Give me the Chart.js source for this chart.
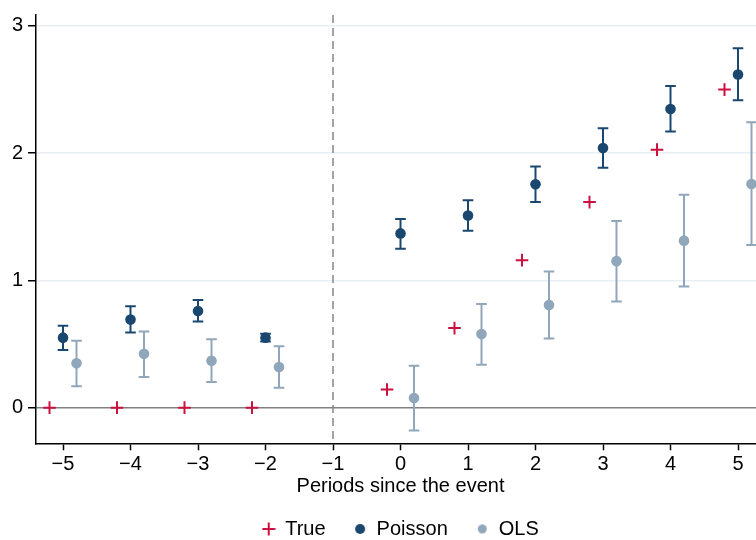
<!DOCTYPE html>
<html>
<head>
<meta charset="utf-8">
<script src="https://cdn.jsdelivr.net/npm/chart.js@4.4.1/dist/chart.umd.min.js"></script>
<style>
  html, body { margin: 0; padding: 0; background: #fff; }
  #frame { width: 756px; height: 540px; overflow: hidden; position: relative; }
  #box { position: absolute; left: 0; top: 0; width: 800px; height: 549px; }
</style>
</head>
<body>
<div id="frame"><div id="box"><canvas id="c"></canvas></div></div>
<script>
// Event-study estimates by period relative to the event
const periods     = [-5, -4, -3, -2, 0, 1, 2, 3, 4, 5];
const trueEffect  = [0, 0, 0, 0, 0.143, 0.625, 1.159, 1.615, 2.027, 2.499];
const poissonEst  = [0.550, 0.692, 0.760, 0.550, 1.369, 1.510, 1.755, 2.040, 2.346, 2.618];
const poissonLo   = [0.454, 0.591, 0.677, 0.520, 1.249, 1.390, 1.615, 1.885, 2.170, 2.416];
const poissonHi   = [0.643, 0.796, 0.845, 0.580, 1.483, 1.630, 1.895, 2.196, 2.527, 2.823];
const olsEst      = [0.348, 0.423, 0.368, 0.319, 0.075, 0.578, 0.806, 1.151, 1.312, 1.757];
const olsLo       = [0.169, 0.241, 0.202, 0.156, -0.179, 0.337, 0.544, 0.835, 0.952, 1.278];
const olsHi       = [0.526, 0.599, 0.537, 0.482, 0.330, 0.814, 1.070, 1.467, 1.672, 2.243];
const seriesNames = ['True', 'Poisson', 'OLS'];
const xTicks      = [-5, -4, -3, -2, -1, 0, 1, 2, 3, 4, 5];
const yTicks      = [0, 1, 2, 3];
const eventPeriod = -1;
const xTitle      = 'Periods since the event';

const COLORS = { true: '#cc1040', poisson: '#1a476f', ols: '#90a6bb' };
const DODGE = 0.2;   // horizontal offset so the three series sit side by side

// small marker images for the legend keys
function keyCanvas(size, draw) {
  const cv = document.createElement('canvas');
  cv.width = size; cv.height = size;
  draw(cv.getContext('2d'), size);
  return cv;
}
const plusKey = keyCanvas(14, (g, s) => {
  g.strokeStyle = COLORS.true; g.lineWidth = 2;
  g.beginPath();
  g.moveTo(s / 2, 0.5); g.lineTo(s / 2, s - 0.5);
  g.moveTo(0.5, s / 2); g.lineTo(s - 0.5, s / 2);
  g.stroke();
});
const dotKey = (color, r) => keyCanvas(Math.ceil(r * 2) + 2, (g, s) => {
  g.fillStyle = color;
  g.beginPath(); g.arc(s / 2, s / 2, r, 0, Math.PI * 2); g.fill();
});
const legendKeys = [plusKey, dotKey(COLORS.poisson, 5), dotKey(COLORS.ols, 4.5)];

const fmt = v => (v < 0 ? '\u2212' + Math.abs(v) : String(v));

// vertical marker at the event period and the confidence intervals
const intervalBars = {
  id: 'intervalBars',
  afterLayout(chart) {
    // keep the legend centred under the plot area
    const l = chart.legend, a = chart.chartArea;
    if (!l) return;
    const shift = (a.left + a.right) / 2 - (l.left + l.right) / 2;
    l.left += shift;
    l.right += shift;
  },
  beforeDatasetsDraw(chart) {
    const { ctx, chartArea: a, scales: { x, y } } = chart;
    ctx.save();
    ctx.beginPath();
    ctx.rect(a.left, a.top, a.right - a.left, a.bottom - a.top);
    ctx.clip();

    const xe = x.getPixelForValue(eventPeriod);
    ctx.strokeStyle = '#8c8c8c';
    ctx.lineWidth = 1.6;
    ctx.setLineDash([8, 5]);
    ctx.beginPath();
    ctx.moveTo(xe, a.top);
    ctx.lineTo(xe, a.bottom);
    ctx.stroke();
    ctx.setLineDash([]);

    chart.data.datasets.forEach((ds, i) => {
      if (!ds.withInterval || !chart.isDatasetVisible(i)) return;
      ctx.strokeStyle = ds.backgroundColor;
      ctx.lineWidth = 2;
      const cap = 5.3;
      ds.data.forEach(pt => {
        const px = x.getPixelForValue(pt.x);
        const lo = y.getPixelForValue(pt.lo);
        const hi = y.getPixelForValue(pt.hi);
        ctx.beginPath();
        ctx.moveTo(px, lo); ctx.lineTo(px, hi);
        ctx.moveTo(px - cap, lo); ctx.lineTo(px + cap, lo);
        ctx.moveTo(px - cap, hi); ctx.lineTo(px + cap, hi);
        ctx.stroke();
      });
    });
    ctx.restore();
  }
};

new Chart(document.getElementById('c'), {
  type: 'scatter',
  data: {
    datasets: [
      {
        label: seriesNames[0],
        data: periods.map((p, i) => ({ x: p - DODGE, y: trueEffect[i] })),
        pointStyle: 'cross',
        pointRadius: 6.3,
        borderColor: COLORS.true,
        backgroundColor: COLORS.true,
        pointBorderWidth: 2
      },
      {
        label: seriesNames[1],
        withInterval: true,
        data: periods.map((p, i) => ({ x: p, y: poissonEst[i], lo: poissonLo[i], hi: poissonHi[i] })),
        pointRadius: 5.3,
        backgroundColor: COLORS.poisson,
        borderColor: COLORS.poisson,
        pointBorderWidth: 0
      },
      {
        label: seriesNames[2],
        withInterval: true,
        data: periods.map((p, i) => ({ x: p + DODGE, y: olsEst[i], lo: olsLo[i], hi: olsHi[i] })),
        pointRadius: 5.3,
        backgroundColor: COLORS.ols,
        borderColor: COLORS.ols,
        pointBorderWidth: 0
      }
    ]
  },
  options: {
    responsive: true,
    maintainAspectRatio: false,
    animation: false,
    layout: { padding: { top: 11, right: 35, left: 0, bottom: 0 } },
    plugins: {
      tooltip: { enabled: false },
      legend: {
        position: 'bottom',
        labels: {
          usePointStyle: true,
          boxWidth: 13,
          padding: 28,
          color: '#000',
          font: { family: '"Liberation Sans", Arial, sans-serif', size: 20 },
          generateLabels: chart => chart.data.datasets.map((ds, i) => ({
            text: ds.label,
            pointStyle: legendKeys[i],
            fillStyle: ds.backgroundColor,
            strokeStyle: ds.borderColor,
            lineWidth: 0,
            fontColor: '#000',
            hidden: false,
            datasetIndex: i
          }))
        }
      }
    },
    scales: {
      x: {
        type: 'linear',
        min: -5.4,
        max: 5.4,
        afterBuildTicks: s => { s.ticks = xTicks.map(v => ({ value: v })); },
        afterFit: s => { s.height = 47.7; },
        border: { display: true, color: '#000', width: 1.5 },
        grid: { drawOnChartArea: false, drawTicks: true, tickLength: 7, tickColor: '#000', tickWidth: 1.5 },
        ticks: {
          padding: 2,
          color: '#000',
          maxRotation: 0,
          autoSkip: false,
          font: { family: '"Liberation Sans", Arial, sans-serif', size: 20 },
          callback: v => fmt(v)
        },
        title: {
          display: true,
          text: xTitle,
          color: '#000',
          padding: { top: 0, bottom: -7 },
          font: { family: '"Liberation Sans", Arial, sans-serif', size: 20 }
        }
      },
      y: {
        type: 'linear',
        min: -0.28,
        max: 3.085,
        afterBuildTicks: s => { s.ticks = yTicks.map(v => ({ value: v })); },
        afterFit: s => { s.width = 36; },
        border: { display: true, color: '#000', width: 1.5 },
        grid: {
          drawTicks: true,
          tickLength: 8,
          tickColor: '#000',
          tickWidth: 1.5,
          lineWidth: 1.5,
          color: c => (c.tick && c.tick.value === 0 ? '#808080' : '#e9eff4')
        },
        ticks: {
          padding: 5,
          color: '#000',
          font: { family: '"Liberation Sans", Arial, sans-serif', size: 20, lineHeight: 1 },
          callback: v => fmt(v)
        }
      }
    }
  },
  plugins: [intervalBars]
});
</script>
</body>
</html>
